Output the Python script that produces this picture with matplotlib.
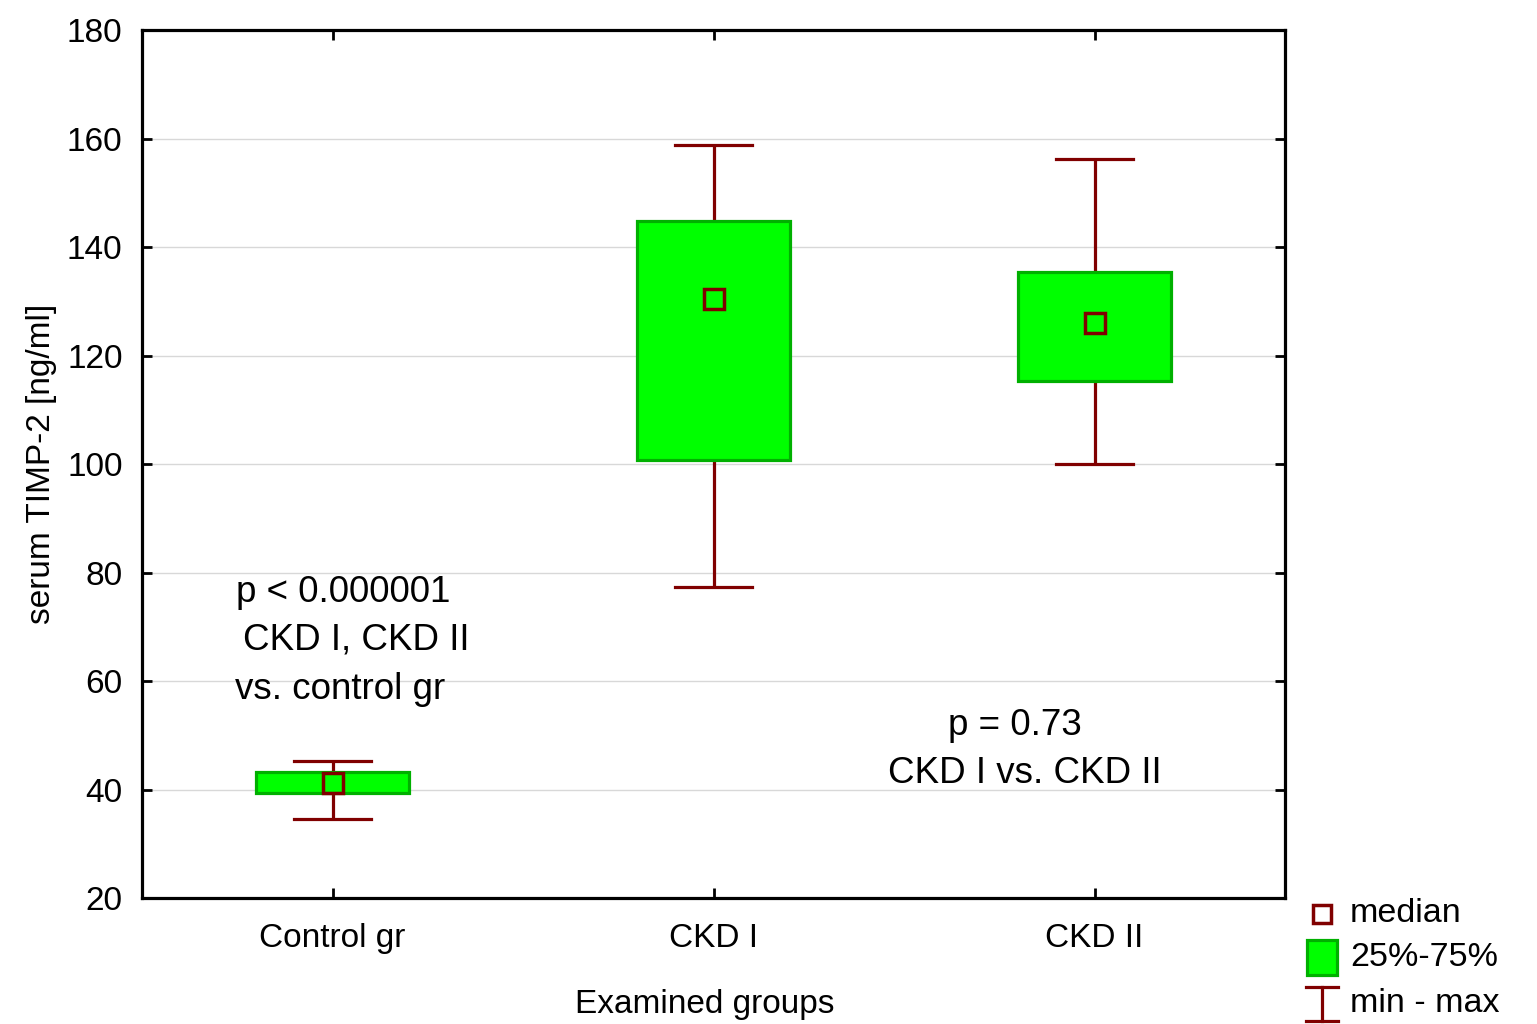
import matplotlib
matplotlib.use("Agg")
import matplotlib.pyplot as plt
from matplotlib.patches import Rectangle

# Data
groups = ["Control gr", "CKD I", "CKD II"]
minimum = [34.6, 77.3, 100.0]
q1 = [39.4, 100.7, 115.3]
median = [41.2, 130.4, 126.0]
q3 = [43.2, 144.8, 135.4]
maximum = [45.3, 158.8, 156.2]
yticks = [20, 40, 60, 80, 100, 120, 140, 160, 180]

GREEN = "#00ff00"
GREEN_EDGE = "#00b000"
RED = "#800000"
FONT = "Liberation Sans"

plt.rcParams["font.family"] = [FONT, "DejaVu Sans"]

fig = plt.figure(figsize=(15.37, 10.24), dpi=100)
ax = fig.add_axes([0.0924, 0.123, 0.7437, 0.8477])

box_w = 0.4
cap_w = 0.2
for i in range(len(groups)):
    ax.plot([i, i], [minimum[i], maximum[i]], color=RED, lw=2.3, zorder=2, solid_capstyle="butt")
    for v in (minimum[i], maximum[i]):
        ax.plot([i - cap_w / 2, i + cap_w / 2], [v, v], color=RED, lw=2.3, zorder=2)
    ax.add_patch(Rectangle((i - box_w / 2, q1[i]), box_w, q3[i] - q1[i],
                           facecolor=GREEN, edgecolor=GREEN_EDGE, lw=2.3, zorder=3))
    ax.plot(i, median[i], "s", mfc="none", mec=RED, mew=2.5, ms=14.5, zorder=4)

ax.set_xlim(-0.5, 2.5)
ax.set_ylim(20, 180)
ax.set_yticks(yticks)
ax.set_xticks(range(len(groups)))
ax.set_xticklabels(groups)
for y in yticks[1:-1]:
    ax.axhline(y, color="#d8d8d8", lw=1.0, zorder=0)

for s in ax.spines.values():
    s.set_linewidth(2.3)
ax.tick_params(direction="in", length=7, width=2, labelsize=24,
               top=True, right=True, pad=14)
ax.tick_params(axis="x", pad=18)

ax.set_ylabel("serum TIMP-2 [ng/ml]", fontsize=24, labelpad=7)
ax.set_xlabel("Examined groups", fontsize=24, labelpad=25)
ax.xaxis.set_label_coords(0.4926, -0.1045)

txt = dict(fontsize=26.5, ha="center", va="center")
ax.text(0.029, 76.3, "p < 0.000001", **txt)
ax.text(0.062, 67.6, "CKD I, CKD II", **txt)
ax.text(0.021, 58.4, "vs. control gr", **txt)
ax.text(1.79, 51.8, "p = 0.73", **txt)
ax.text(1.818, 42.9, "CKD I vs. CKD II", **txt)

# Legend drawn in pixel coordinates of the figure
lg = fig.add_axes([0, 0, 1, 1])
lg.set_xlim(0, 1537)
lg.set_ylim(1024, 0)
lg.axis("off")
lg.plot(1322, 914, "s", mfc="none", mec=RED, mew=2.5, ms=13.5)
lg.add_patch(Rectangle((1307, 940), 30, 35, facecolor=GREEN, edgecolor=GREEN_EDGE, lw=2.3))
lg.plot([1322, 1322], [987, 1021], color=RED, lw=2.3)
lg.plot([1306, 1338], [987, 987], color=RED, lw=2.3)
lg.plot([1306, 1338], [1021, 1021], color=RED, lw=2.3)
for y, label in [(913, "median"), (958, "25%-75%"), (1004, "min - max")]:
    lg.text(1350, y, label, fontsize=24.5, va="center", ha="left")

fig.savefig("out.png", dpi=100)
